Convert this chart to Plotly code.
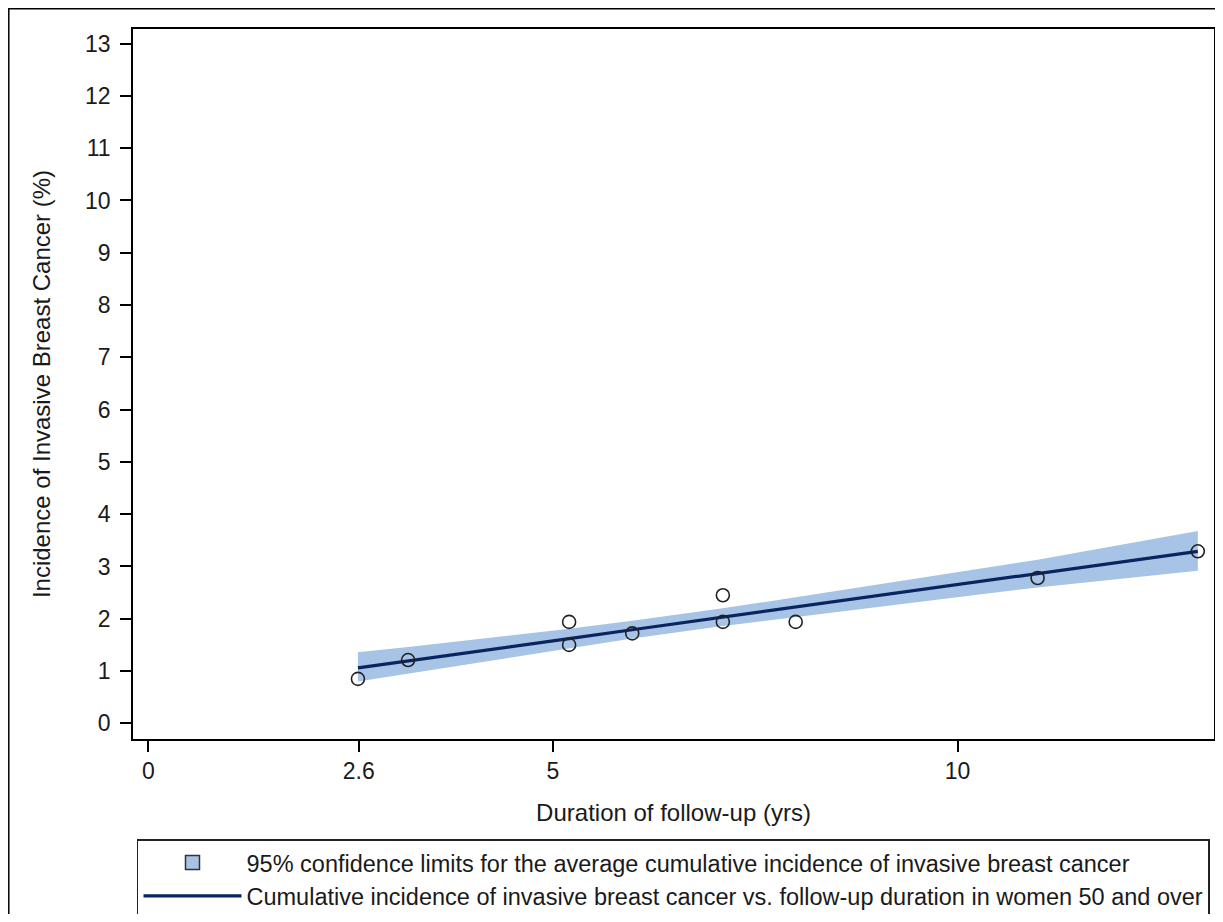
import plotly.graph_objects as go

# Observed study points (follow-up duration in years, cumulative incidence %)
obs_x = [2.59, 3.21, 5.20, 5.20, 5.98, 7.10, 7.10, 8.00, 10.99, 12.97]
obs_y = [0.85, 1.21, 1.94, 1.50, 1.72, 2.45, 1.94, 1.94, 2.78, 3.29]

# Fitted line and 95% confidence band read at several durations
fit_x = [2.59, 3.21, 5.20, 5.98, 7.10, 8.00, 10.99, 12.97]
fit_y = [1.06, 1.19, 1.62, 1.79, 2.03, 2.22, 2.86, 3.29]
ci_upper = [1.36, 1.46, 1.81, 1.96, 2.20, 2.41, 3.13, 3.68]
ci_lower = [0.80, 0.95, 1.43, 1.62, 1.86, 2.03, 2.60, 2.92]

x_tickvals = [0, 2.6, 5, 10]
x_ticktext = ["0", "2.6", "5", "10"]
y_tickvals = list(range(0, 14))

band_name = "95% confidence limits for the average cumulative incidence of invasive breast cancer"
line_name = "Cumulative incidence of invasive breast cancer vs. follow-up duration in women 50 and over"

BAND = "#a7c3e5"
LINE = "#0a2460"
TXT = "#1a1a1a"
FONT = "Liberation Sans, Arial, sans-serif"

fig = go.Figure()

fig.add_trace(go.Scatter(x=fit_x, y=ci_lower, mode="lines", line=dict(width=0, color=BAND),
                         showlegend=False, hoverinfo="skip"))
fig.add_trace(go.Scatter(x=fit_x, y=ci_upper, mode="lines", line=dict(width=0, color=BAND),
                         fill="tonexty", fillcolor=BAND, showlegend=False, hoverinfo="skip"))
# legend entry for band
fig.add_trace(go.Scatter(x=[None], y=[None], mode="markers", name=band_name,
                         marker=dict(symbol="square", size=14, color=BAND,
                                     line=dict(color="#333333", width=1.5))))
fig.add_trace(go.Scatter(x=fit_x, y=fit_y, mode="lines", name=line_name,
                         line=dict(color=LINE, width=3.2)))
fig.add_trace(go.Scatter(x=obs_x, y=obs_y, mode="markers", showlegend=False,
                         marker=dict(symbol="circle-open", size=13, color="#222222",
                                     line=dict(width=1.6, color="#222222"))))

axis_common = dict(showline=True, linecolor="black", linewidth=1.5, mirror=True,
                   ticks="outside", ticklen=11, tickwidth=1.5, tickcolor="black",
                   showgrid=False, zeroline=False,
                   tickfont=dict(family=FONT, size=23, color=TXT))

fig.update_xaxes(range=[-0.19, 13.17], tickvals=x_tickvals, ticktext=x_ticktext,
                 title=dict(text="Duration of follow-up (yrs)", standoff=21,
                            font=dict(family=FONT, size=24, color=TXT)),
                 **axis_common)
fig.update_yaxes(range=[-0.30, 13.28], tickvals=y_tickvals, ticklabelstandoff=5,
                 title=dict(text="Incidence of Invasive Breast Cancer (%)", standoff=28,
                            font=dict(family=FONT, size=24, color=TXT)),
                 **axis_common)

fig.add_shape(type="rect", xref="paper", yref="paper", x0=-0.1149, y0=-0.4, x1=1.2, y1=1.0285,
              line=dict(color="black", width=1.5), fillcolor="rgba(0,0,0,0)", layer="below")

fig.update_layout(
    width=1207, height=906,
    margin=dict(l=125, r=1, t=21, b=175, autoexpand=False),
    paper_bgcolor="white", plot_bgcolor="white",
    font=dict(family=FONT, size=23, color=TXT),
    legend=dict(x=0.0037, y=-0.141, xanchor="left", yanchor="top",
                bordercolor="#222222", borderwidth=1.5, bgcolor="white",
                itemwidth=98, tracegroupgap=0, traceorder="normal",
                font=dict(family=FONT, size=23.5, color=TXT)),
)

fig.write_html("out.html")
